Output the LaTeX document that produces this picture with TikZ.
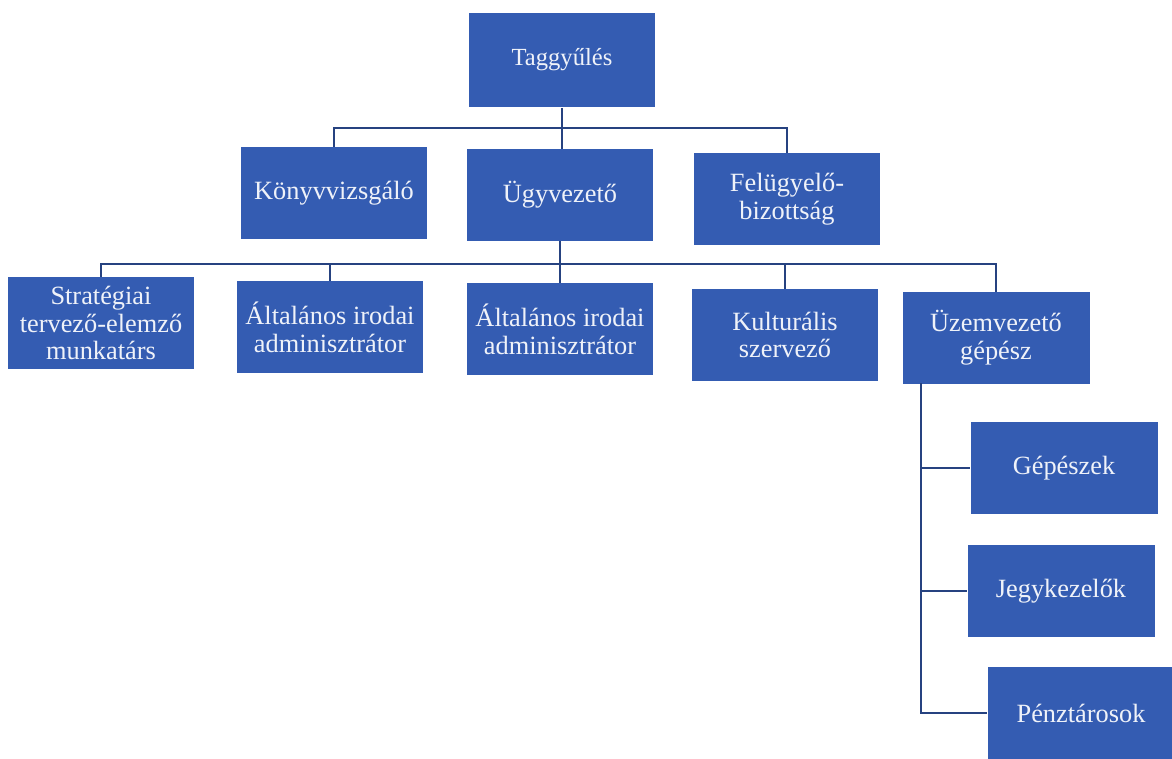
\documentclass[tikz,border=0pt]{standalone}
\usepackage{fontspec}
\setmainfont{Liberation Serif}
\usepackage{xcolor}
\usetikzlibrary{positioning,calc}
\definecolor{unitblue}{RGB}{52,92,178}
\definecolor{linkblue}{RGB}{38,66,128}

\begin{document}
\begin{tikzpicture}[x=0.02cm,y=-0.02cm,
    unit/.style={fill=unitblue,text=white!92!unitblue,align=center,
      minimum width=3.74cm,minimum height=1.84cm,inner sep=2pt,
      font=\fontsize{15}{15.8}\selectfont},
    link/.style={draw=linkblue,line width=1.3pt}]
  \useasboundingbox (0,0) rectangle (1172,758);

  % top
  \node[unit,minimum height=1.9cm,font=\fontsize{14}{15}\selectfont] (tag) at (562,60) {Taggyűlés};

  % second row
  \node[unit] (konyv) at (334,193) {Könyvvizsgáló};
  \node[unit] (ugy)   at (560,195) {Ügyvezető};
  \node[unit] (felu)  at (787,199) {Felügyelő-\\bizottság};

  % third row
  \node[unit] (strat) at (101,323) {Stratégiai\\tervező-elemző\\munkatárs};
  \node[unit] (alt1)  at (330,327) {Általános irodai\\adminisztrátor};
  \node[unit] (alt2)  at (560,329) {Általános irodai\\adminisztrátor};
  \node[unit] (kult)  at (785,335) {Kulturális\\szervező};
  \node[unit] (uzem)  at (996,338) {Üzemvezető\\gépész};

  % under the Üzemvezető
  \node[unit] (gep)  at (1064,468) {Gépészek};
  \node[unit] (jegy) at (1061,591) {Jegykezelők};
  \node[unit] (penz) at (1081,713) {Pénztárosok};

  \coordinate (bus1) at (562,128);
  \coordinate (bus2) at (560,264);
  \coordinate (spine) at (921,383);

  \draw[link] (tag.south) -- (tag.south |- ugy.north);
  \draw[link] (konyv.north) |- (bus1) -| (felu.north);

  \draw[link] (ugy) -- (alt2);
  \draw[link] (strat.north) |- (bus2) -| (uzem.north);
  \foreach \n in {alt1,kult}
    \draw[link] (\n.north) -- (\n.north |- bus2);

  \draw[link] (spine) |- (penz.west);
  \foreach \n in {gep,jegy}
    \draw[link] (spine |- \n.west) -- (\n.west);
\end{tikzpicture}
\end{document}
